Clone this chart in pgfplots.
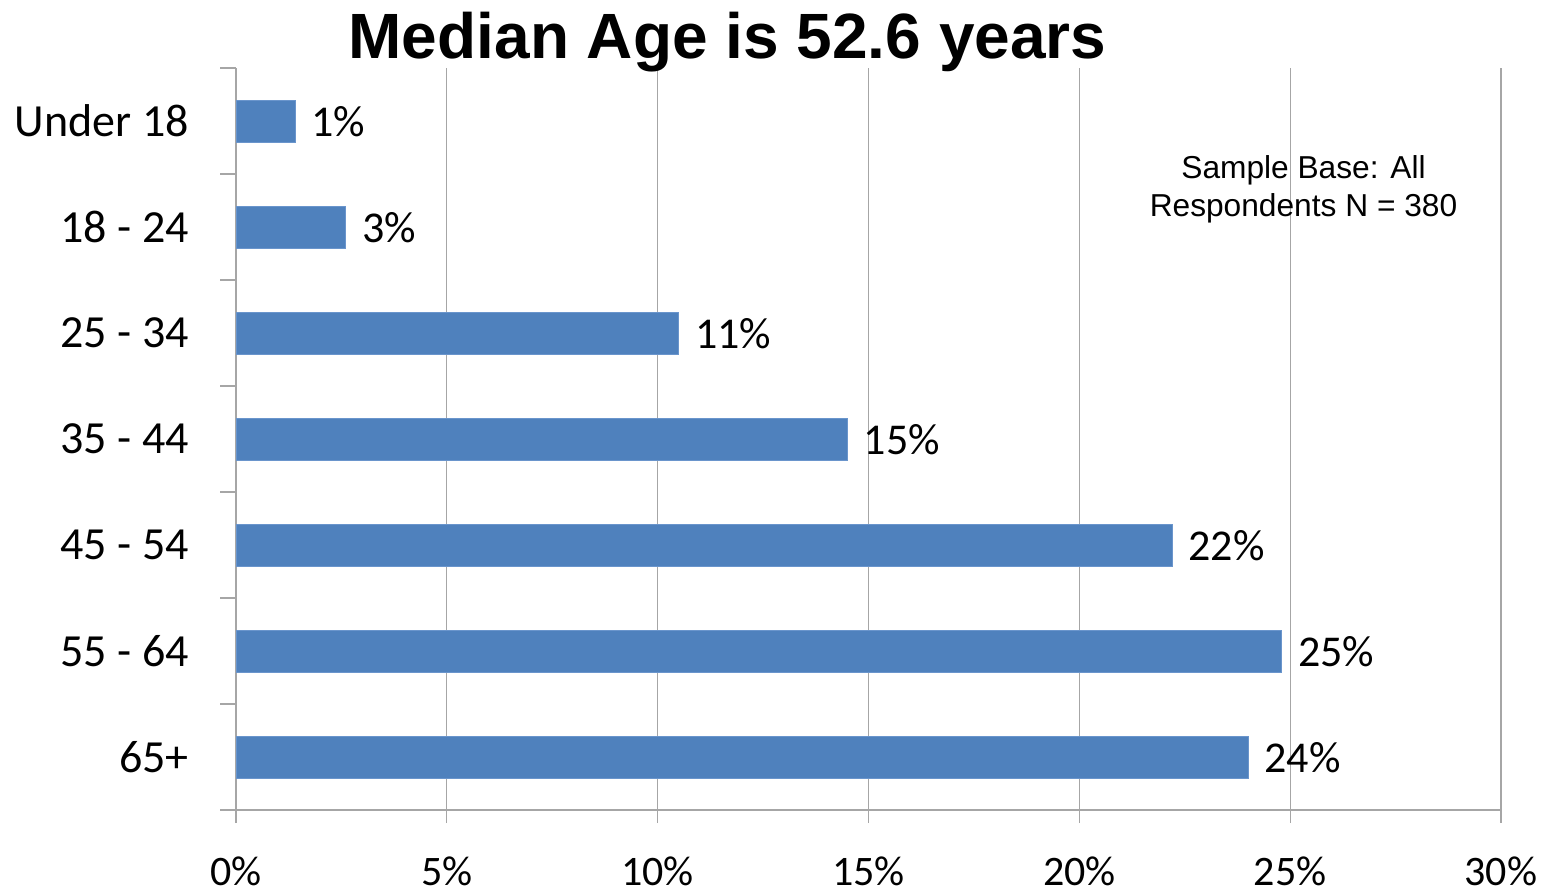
\documentclass[border=0pt]{standalone}
\usepackage{fontspec}
\setmainfont{Carlito}
\newfontfamily\arial{Liberation Sans}
\usepackage{pgfplots}
\pgfplotsset{compat=1.18}
\definecolor{barblue}{HTML}{4F81BD}
\definecolor{baredge}{HTML}{6A95CC}
\definecolor{gridgray}{HTML}{A6A6A6}
\begin{document}
\begin{tikzpicture}
\path[use as bounding box] (0pt,0pt) rectangle (1554pt,-895pt);
\begin{axis}[
  at={(236pt,-810pt)}, anchor=south west,
  scale only axis, width=1265pt, height=742pt,
  xbar, bar width=42pt,
  xmin=0, xmax=30, ymin=-0.5, ymax=6.5, y dir=reverse,
  axis lines=left, axis line style={draw=gridgray, line width=1.3pt, -},
  xmajorgrids, grid style={draw=gridgray, line width=1.3pt},
  xtick={0,5,...,30}, xticklabels={0\%,5\%,10\%,15\%,20\%,25\%,30\%},
  ytick={0,...,6}, yticklabels={Under 18,18 - 24,25 - 34,35 - 44,45 - 54,55 - 64,65+},
  minor ytick={-0.5,0.5,...,6.5},
  tick align=outside, major tick length=13pt, minor tick length=16pt,
  tick style={draw=gridgray, line width=1.3pt},
  major y tick style={draw=none},
  xticklabel style={font=\fontsize{42}{50}\selectfont, anchor=base, inner sep=0pt, yshift=-62pt},
  yticklabel style={font=\fontsize{46}{55}\selectfont, anchor=east, inner sep=0pt, xshift=-34pt},
  nodes near coords, point meta=explicit symbolic,
  every node near coord/.append style={font=\fontsize{44}{52}\selectfont, anchor=west, inner sep=0pt, xshift=16pt, yshift=-1pt, text=black},
  clip=false,
]
\addplot[fill=barblue, draw=baredge, line width=0.8pt] coordinates {
  (1.4,0) [1\%]
  (2.6,1) [3\%]
  (10.5,2) [11\%]
  (14.5,3) [15\%]
  (22.2,4) [22\%]
  (24.8,5) [25\%]
  (24.0,6) [24\%]
};
\end{axis}
\node[font=\arial\bfseries\fontsize{64}{72}\selectfont, anchor=base] at (727.5pt,-58pt) {Median Age is 52.6 years};
\node[font=\arial\fontsize{31.7}{38}\selectfont, align=center] at (1303.5pt,-189pt) {Sample Base: All\\Respondents N = 380};
\end{tikzpicture}
\end{document}
